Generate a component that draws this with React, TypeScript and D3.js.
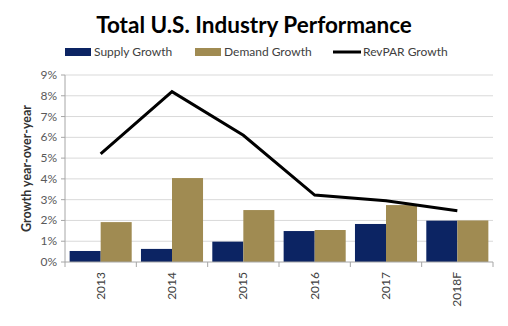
import React from "react";
import * as d3 from "d3";

const categories = ["2013", "2014", "2015", "2016", "2017", "2018F"];
const supplyGrowth = [0.53, 0.63, 0.98, 1.49, 1.83, 1.99];
const demandGrowth = [1.92, 4.04, 2.5, 1.54, 2.74, 2.0];
const revparGrowth = [5.2, 8.2, 6.1, 3.22, 2.95, 2.47];
const yTicks = [0, 1, 2, 3, 4, 5, 6, 7, 8, 9];

const W = 508, H = 326;
const left = 65, right = 493, top = 75, bottom = 262;
const supplyColor = "#0c2463";
const demandColor = "#a08b52";
const font = "Lato, 'Open Sans', sans-serif";

export default function App() {
  const x = d3.scaleBand<string>().domain(categories).range([left, right]).paddingInner(0.13).paddingOuter(0.065);
  const xc = d3.scaleBand<string>().domain(categories).range([left, right]);
  const y = d3.scaleLinear().domain([0, 9]).range([bottom, top]);
  const bw = x.bandwidth() / 2;
  const line = d3.line<number>().x((_, i) => xc(categories[i])! + xc.bandwidth() / 2).y((d) => y(d));

  return (
    <svg width={W} height={H} style={{ position: "absolute", left: 0, top: 0, background: "#fff" }}>
      <text x={254} y={33} textAnchor="middle" fontFamily={font} fontWeight="bold" fontSize={22.5} fill="#000">
        Total U.S. Industry Performance
      </text>
      {/* legend */}
      <rect x={65} y={48} width={26} height={8} fill={supplyColor} />
      <text x={94} y={56} fontFamily={font} fontSize={12} fill="#404040">Supply Growth</text>
      <rect x={195} y={48} width={26} height={8} fill={demandColor} />
      <text x={224} y={56} fontFamily={font} fontSize={12} fill="#404040">Demand Growth</text>
      <line x1={333} x2={361} y1={52} y2={52} stroke="#000" strokeWidth={3} />
      <text x={363} y={56} fontFamily={font} fontSize={12} fill="#404040">RevPAR Growth</text>

      {/* grid */}
      {yTicks.map((t) => (
        <g key={t}>
          {t > 0 && <line x1={left} x2={right} y1={y(t)} y2={y(t)} stroke="#d9d9d9" strokeWidth={1} />}
          <line x1={left - 4} x2={left} y1={y(t)} y2={y(t)} stroke="#a6a6a6" />
          <text x={left - 8} y={y(t) + 4} textAnchor="end" fontFamily={font} fontSize={12} fill="#595959">{t}%</text>
        </g>
      ))}
      <line x1={left} x2={left} y1={top} y2={bottom} stroke="#a6a6a6" />

      {/* bars */}
      {categories.map((c, i) => (
        <g key={c}>
          <rect x={x(c)!} y={y(supplyGrowth[i])} width={bw} height={bottom - y(supplyGrowth[i])} fill={supplyColor} />
          <rect x={x(c)! + bw} y={y(demandGrowth[i])} width={bw} height={bottom - y(demandGrowth[i])} fill={demandColor} />
        </g>
      ))}
      <line x1={left} x2={right} y1={bottom} y2={bottom} stroke="#a6a6a6" />
      {[...categories, "end"].map((c, i) => {
        const xx = left + i * xc.step();
        return <line key={c} x1={xx} x2={xx} y1={bottom} y2={bottom + 5} stroke="#a6a6a6" />;
      })}
      {categories.map((c) => {
        const cx = xc(c)! + xc.bandwidth() / 2;
        return (
          <text key={c} transform={`translate(${cx + 4},${bottom + 10}) rotate(-90)`} textAnchor="end" fontFamily={font} fontSize={12} fill="#404040">
            {c}
          </text>
        );
      })}
      <path d={line(revparGrowth)!} fill="none" stroke="#000" strokeWidth={3} />

      <text transform={`translate(31,${(top + bottom) / 2}) rotate(-90)`} textAnchor="middle" fontFamily={font} fontWeight="bold" fontSize={12.5} fill="#333">
        Growth year-over-year
      </text>
    </svg>
  );
}
